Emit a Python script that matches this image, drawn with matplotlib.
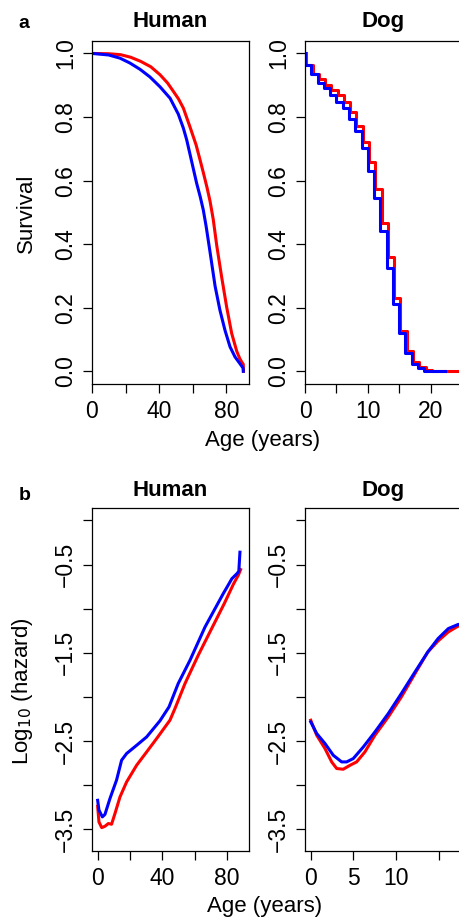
import matplotlib
matplotlib.use('Agg')
import matplotlib.pyplot as plt
import numpy as np

plt.rcParams['font.family'] = ['Liberation Sans', 'DejaVu Sans']
plt.rcParams['axes.linewidth'] = 0.9

RED = '#ff0000'
BLUE = '#0000ff'

# --- a: survival ---
# human, female (red) / male (blue)
hum_surv_age_f = [0, 10, 17, 23, 29, 35, 40.5, 45, 48.4, 51.5, 54.4, 58.4, 62, 64, 66.3, 68.5, 70.3, 72.2, 74.3, 77.2,
                  80.2, 83.2, 86.2, 88, 89.2, 90.1, 90.2]
hum_surv_f = [1.0, 0.999, 0.996, 0.988, 0.975, 0.958, 0.933, 0.907, 0.881, 0.857, 0.828, 0.768, 0.712, 0.672, 0.625,
              0.578, 0.535, 0.478, 0.395, 0.297, 0.202, 0.119, 0.063, 0.04, 0.029, 0.022, 0.0]
hum_surv_age_m = [0, 10, 16.7, 22.5, 28.6, 34.5, 40.5, 46.5, 51.4, 54.4, 56.4, 58.4, 62.3, 64.5, 66.3, 68, 70.3, 73.3,
                  76.2, 79.2, 82.2, 85.2, 88.1, 90.0, 90.1]
hum_surv_m = [1.0, 0.995, 0.985, 0.970, 0.950, 0.926, 0.895, 0.859, 0.809, 0.765, 0.728, 0.682, 0.592, 0.548, 0.507,
              0.455, 0.375, 0.268, 0.192, 0.129, 0.077, 0.045, 0.024, 0.01, 0.0]

# dog, yearly steps
dog_years_f = [0, 0, 1, 2, 3, 4, 5, 6, 7, 8, 9, 10, 11, 12, 13, 14, 15, 16, 17, 18, 19, 20, 21, 22, 23, 24.2]
dog_surv_f = [1.0, 0.963, 0.934, 0.919, 0.900, 0.884, 0.869, 0.846, 0.816, 0.771, 0.722, 0.657, 0.573, 0.466, 0.358, 0.229,
              0.127, 0.064, 0.029, 0.012, 0.004, 0.002, 0.001, 0.0006, 0.0004, 0.0004]
dog_years_m = [0, 0, 1, 2, 3, 4, 5, 6, 7, 8, 9, 10, 11, 12, 13, 14, 15, 16, 17, 18, 19, 20, 21, 22.3]
dog_surv_m = [1.0, 0.963, 0.934, 0.906, 0.890, 0.869, 0.848, 0.829, 0.793, 0.755, 0.701, 0.630, 0.546, 0.441, 0.326, 0.213,
              0.121, 0.058, 0.024, 0.009, 0.002, 0.001, 0.0005, 0.0005]

# --- b: log10 hazard ---
hum_haz_age_f = [0, 0.8, 2.5, 4.5, 6.6, 8.6, 10.7, 13.8, 17.9, 24.1, 30.3, 36.5, 44.7, 47.8, 54, 62.2, 70.5, 78.3, 84, 87, 88.4]
hum_haz_f = [-3.237, -3.415, -3.479, -3.464, -3.433, -3.441, -3.32, -3.132, -2.962, -2.773, -2.622, -2.47, -2.263, -2.131,
             -1.848, -1.527, -1.225, -0.942, -0.72, -0.62, -0.557]
hum_haz_age_m = [0, 0.8, 2.9, 4.5, 7.6, 11.7, 14.8, 17.9, 24.1, 30.3, 38.5, 44.1, 49.8, 57.1, 66.4, 77.7, 80.5, 83, 86.3, 87.3, 88.0]
hum_haz_m = [-3.17, -3.28, -3.358, -3.33, -3.15, -2.94, -2.716, -2.64, -2.547, -2.452, -2.27, -2.113, -1.848, -1.584,
             -1.207, -0.828, -0.74, -0.66, -0.60, -0.575, -0.36]

dog_haz_age_f = [0, 0.7, 1.67, 2.45, 3.04, 3.8, 4.6, 5.37, 6.34, 7.51, 9.07, 10.6, 12.2, 13.7, 14.9, 16.1, 17.2, 17.8]
dog_haz_f = [-2.263, -2.433, -2.584, -2.735, -2.81, -2.818, -2.773, -2.735, -2.622, -2.433, -2.226, -2.0, -1.735, -1.49,
             -1.365, -1.263, -1.199, -1.19]
dog_haz_age_m = [0, 0.7, 1.67, 2.64, 3.62, 4.2, 4.98, 6.15, 7.51, 9.07, 10.6, 12.2, 13.7, 14.9, 16.1, 17.2, 17.8]
dog_haz_m = [-2.282, -2.414, -2.527, -2.66, -2.735, -2.735, -2.697, -2.566, -2.396, -2.188, -1.961, -1.716, -1.49, -1.338,
             -1.225, -1.18, -1.17]

W, H = 459, 919
fig = plt.figure(figsize=(W / 100, H / 100), dpi=100)


def box(left, top, right, bottom):
    return [left / W, 1 - bottom / H, (right - left) / W, (bottom - top) / H]


def style(ax, xt, xl, yt, yl):
    ax.set_xticks(xt)
    ax.set_xticklabels(xl)
    ax.set_yticks(yt)
    ax.set_yticklabels(yl, rotation=90, va='center')
    ax.tick_params(direction='out', length=6.7, width=0.9, labelsize=16.5, pad=4)
    ax.tick_params(axis='x', pad=5)


LW = 2.2
ax1 = fig.add_axes(box(92, 40.7, 249, 384))
ax1.plot(hum_surv_age_f, hum_surv_f, color=RED, lw=LW)
ax1.plot(hum_surv_age_m, hum_surv_m, color=BLUE, lw=LW)
ax1.set_xlim(0, 93.5)
ax1.set_ylim(-0.04, 1.04)
style(ax1, [0, 20, 40, 60, 80], ['0', '', '40', '', '80'],
      [0, 0.2, 0.4, 0.6, 0.8, 1.0], ['0.0', '0.2', '0.4', '0.6', '0.8', '1.0'])

ax2 = fig.add_axes(box(305, 40.7, 462, 384))
ax2.step(np.array(dog_years_f) + 0.2, dog_surv_f, where='post', color=RED, lw=LW)
ax2.step(dog_years_m, dog_surv_m, where='post', color=BLUE, lw=LW)
ax2.set_xlim(0, 25)
ax2.set_ylim(-0.04, 1.04)
style(ax2, [0, 5, 10, 15, 20], ['0', '', '10', '', '20'],
      [0, 0.2, 0.4, 0.6, 0.8, 1.0], ['0.0', '0.2', '0.4', '0.6', '0.8', '1.0'])

yt = [0, -0.5, -1, -1.5, -2, -2.5, -3, -3.5]
ytl = ['', '\u22120.5', '', '\u22121.5', '', '\u22122.5', '', '\u22123.5']
ax3 = fig.add_axes(box(92, 507.7, 249, 851))
ax3.plot(hum_haz_age_f, hum_haz_f, color=RED, lw=LW)
ax3.plot(hum_haz_age_m, hum_haz_m, color=BLUE, lw=LW)
ax3.set_xlim(-3.5, 93.6)
ax3.set_ylim(-3.744, 0.144)
style(ax3, [0, 20, 40, 60, 80], ['0', '', '40', '', '80'], yt, ytl)

ax4 = fig.add_axes(box(305, 507.7, 462, 851))
ax4.plot(dog_haz_age_f, dog_haz_f, color=RED, lw=LW)
ax4.plot(dog_haz_age_m, dog_haz_m, color=BLUE, lw=LW)
ax4.set_xlim(-0.67, 17.7)
ax4.set_ylim(-3.744, 0.144)
style(ax4, [0, 5, 10, 15], ['0', '5', '10', ''], yt, ytl)

for ax, ty in [(ax1, 21.7), (ax2, 21.7), (ax3, 490.7), (ax4, 490.7)]:
    pos = ax.get_position()
    name = 'Human' if ax in (ax1, ax3) else 'Dog'
    fig.text(pos.x0 + pos.width / 2, 1 - ty / H, name, ha='center', va='center',
             fontsize=16, fontweight='bold')


def ftext(x, y, s, **kw):
    fig.text(x / W, 1 - y / H, s, ha='center', va='center', **kw)


ftext(24, 24, 'a', fontsize=14, fontweight='bold')
ftext(25, 495.7, 'b', fontsize=14, fontweight='bold')
ftext(263, 440, 'Age (years)', fontsize=16)
ftext(265, 906.7, 'Age (years)', fontsize=16)
ftext(26, 213, 'Survival', fontsize=16, rotation=90)
ftext(22.7, 691, 'Log$_{10}$ (hazard)', fontsize=16, rotation=90)

fig.savefig('out.png', dpi=100)
